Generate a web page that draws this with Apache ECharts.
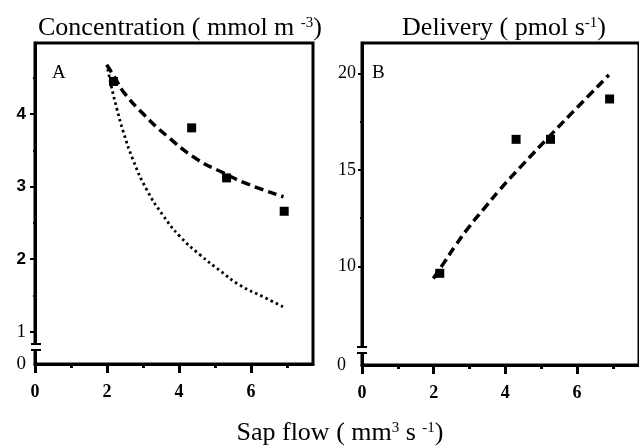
<!DOCTYPE html>
<html>
<head>
<meta charset="utf-8">
<script src="https://cdn.jsdelivr.net/npm/echarts@6/dist/echarts.min.js"></script>
<style>
  html, body { margin: 0; padding: 0; background: #fff; }
  #chart { width: 639px; height: 446px; }
</style>
</head>
<body>
<div id="chart"></div>
<script>
// panel A: concentration vs sap flow
const flowA = [2.18, 4.35, 5.32, 6.92]
const concA = [4.45, 3.81, 3.12, 2.66]
const fitFlowA = [1.99, 2.22, 2.45, 3.01, 3.66, 4.49, 5.23, 5.88, 6.90]
const fitConcA = [4.68, 4.50, 4.31, 4.00, 3.70, 3.38, 3.19, 3.04, 2.86]
const dotFlowA = [2.02, 2.13, 2.27, 2.45, 2.73, 3.10, 3.56, 4.03, 4.58, 5.14, 5.69, 6.34, 6.90]
const dotConcA = [4.62, 4.36, 4.08, 3.76, 3.36, 2.96, 2.60, 2.31, 2.06, 1.84, 1.64, 1.48, 1.34]

// panel B: delivery vs sap flow
const flowB = [2.17, 4.30, 5.26, 6.91]
const delivB = [9.64, 16.58, 16.58, 18.67]
const fitFlowB = [1.99, 2.30, 2.61, 2.97, 3.41, 3.86, 4.40, 5.29, 6.00, 6.89]
const fitDelivB = [9.37, 10.22, 11.08, 12.00, 13.00, 14.00, 15.10, 16.85, 18.22, 19.91]

// ticks
const xMajor = [0, 2, 4, 6]
const xMinor = [1, 3, 5, 7]
const yMajorA = [1, 2, 3, 4]
const yMinorA = [1.5, 2.5, 3.5, 4.5]
const yMajorB = [10, 15, 20]
const yMinorB = [12.5, 17.5]

// broken axes: bottom of each y axis is labelled 0
const yMinA = 0.554, yMaxA = 4.98
const yMinB = 4.89, yMaxB = 21.57

const chart = echarts.init(document.getElementById('chart'), null, { renderer: 'canvas' })

const serif = 'Liberation Serif'
const sans = 'Liberation Sans'
const pair = (xs, ys) => xs.map((x, i) => [x, ys[i]])

const titleRich = {
  m: { fontFamily: serif, fontSize: 26, fontWeight: 'normal', color: '#000', lineHeight: 30 },
  s: { fontFamily: serif, fontSize: 15, fontWeight: 'normal', color: '#000', verticalAlign: 'top', lineHeight: 30, padding: [3, 0, 0, 0] },
}

const majorX = (grid, max) => ({
  type: 'value', gridIndex: grid, min: 0, max: max, position: 'bottom',
  axisLine: { lineStyle: { color: '#000', width: 3 } },
  axisTick: { customValues: xMajor, length: 9, lineStyle: { color: '#000', width: 3 } },
  axisLabel: { customValues: xMajor, margin: 19, color: '#000', fontFamily: serif, fontWeight: 'bold', fontSize: 18 },
  splitLine: { show: false },
})
const minorX = (grid, max) => ({
  type: 'value', gridIndex: grid, min: 0, max: max, position: 'bottom',
  axisLine: { show: false },
  axisTick: { customValues: xMinor, length: 4, lineStyle: { color: '#000', width: 3 } },
  axisLabel: { show: false },
  splitLine: { show: false },
})
const minorY = (grid, min, max, vals) => ({
  type: 'value', gridIndex: grid, min: min, max: max, position: 'left',
  axisLine: { show: false },
  axisTick: { customValues: vals, length: 2, lineStyle: { color: '#000', width: 2 } },
  axisLabel: { show: false },
  splitLine: { show: false },
})

chart.setOption({
  backgroundColor: '#fff',
  animation: false,
  title: [
    { text: '{m|Concentration ( mmol m }{s|-3}{m|)}', left: 175, top: 8, textAlign: 'center', textStyle: { rich: titleRich } },
    { text: '{m|Delivery ( pmol s}{s|-1}{m|)}', left: 499, top: 8, textAlign: 'center', textStyle: { rich: titleRich } },
    { text: '{m|Sap flow ( mm}{s|3}{m| s }{s|-1}{m|)}', left: 335, top: 413, textAlign: 'center', textStyle: { rich: titleRich } },
    { text: 'A', left: 47, top: 59, textStyle: { fontFamily: serif, fontSize: 19, fontWeight: 'normal', color: '#000' } },
    { text: 'B', left: 367, top: 59, textStyle: { fontFamily: serif, fontSize: 19, fontWeight: 'normal', color: '#000' } },
  ],
  grid: [
    { left: 35, top: 43, width: 278, height: 321, show: true, borderColor: '#000', borderWidth: 3 },
    { left: 362, top: 43, width: 289, height: 322, show: true, borderColor: '#000', borderWidth: 3 },
  ],
  xAxis: [
    majorX(0, 7.72), minorX(0, 7.72),
    majorX(1, 7.73), minorX(1, 7.73),
  ],
  yAxis: [
    {
      type: 'value', gridIndex: 0, min: yMinA, max: yMaxA, position: 'left',
      axisLine: { lineStyle: { color: '#000', width: 3 } },
      axisTick: { customValues: yMajorA, length: 5, lineStyle: { color: '#000', width: 2 } },
      axisLabel: {
        customValues: [yMinA].concat(yMajorA), margin: 9, color: '#000',
        formatter: v => v < 1 ? '{t|0}' : v === 1 ? '{t|1}' : '{b|' + v + '}',
        rich: {
          t: { fontFamily: serif, fontSize: 19, color: '#000' },
          b: { fontFamily: sans, fontWeight: 'bold', fontSize: 17, color: '#000' },
        },
      },
      splitLine: { show: false },
    },
    minorY(0, yMinA, yMaxA, yMinorA),
    {
      type: 'value', gridIndex: 1, min: yMinB, max: yMaxB, position: 'left',
      axisLine: { lineStyle: { color: '#000', width: 3 } },
      axisTick: { customValues: yMajorB, length: 4, lineStyle: { color: '#000', width: 2 } },
      axisLabel: {
        customValues: [yMinB].concat(yMajorB), margin: 6, color: '#000',
        formatter: v => v < 10 ? '{z|0}' : String(v),
        fontFamily: serif, fontSize: 18,
        rich: { z: { fontFamily: serif, fontSize: 18, color: '#000', padding: [0, 10, 0, 0] } },
      },
      splitLine: { show: false },
    },
    minorY(1, yMinB, yMaxB, yMinorB),
  ],
  graphic: [
    // axis breaks
    { type: 'rect', shape: { x: 30, y: 345, width: 12, height: 4 }, style: { fill: '#fff' }, z: 100 },
    { type: 'line', shape: { x1: 31, y1: 344, x2: 41, y2: 344 }, style: { stroke: '#000', lineWidth: 2 }, z: 101 },
    { type: 'line', shape: { x1: 31, y1: 350, x2: 41, y2: 350 }, style: { stroke: '#000', lineWidth: 2 }, z: 101 },
    { type: 'rect', shape: { x: 356, y: 348, width: 12, height: 4 }, style: { fill: '#fff' }, z: 100 },
    { type: 'line', shape: { x1: 357, y1: 347, x2: 367, y2: 347 }, style: { stroke: '#000', lineWidth: 2 }, z: 101 },
    { type: 'line', shape: { x1: 357, y1: 353, x2: 367, y2: 353 }, style: { stroke: '#000', lineWidth: 2 }, z: 101 },
  ],
  series: [
    {
      type: 'line', xAxisIndex: 0, yAxisIndex: 0, data: pair(dotFlowA, dotConcA),
      smooth: 0.5, showSymbol: false, lineStyle: { color: '#000', width: 2.8, type: [2.5, 3.2] },
    },
    {
      type: 'line', xAxisIndex: 0, yAxisIndex: 0, data: pair(fitFlowA, fitConcA),
      smooth: 0.5, showSymbol: false, lineStyle: { color: '#000', width: 3.5, type: [9, 5] },
    },
    {
      type: 'scatter', xAxisIndex: 0, yAxisIndex: 0, data: pair(flowA, concA),
      symbol: 'rect', symbolSize: 9, itemStyle: { color: '#000', opacity: 1 },
    },
    {
      type: 'line', xAxisIndex: 2, yAxisIndex: 2, data: pair(fitFlowB, fitDelivB),
      smooth: 0.5, showSymbol: false, lineStyle: { color: '#000', width: 3.5, type: [9, 5] },
    },
    {
      type: 'scatter', xAxisIndex: 2, yAxisIndex: 2, data: pair(flowB, delivB),
      symbol: 'rect', symbolSize: 9, itemStyle: { color: '#000', opacity: 1 },
    },
  ],
})
</script>
</body>
</html>
